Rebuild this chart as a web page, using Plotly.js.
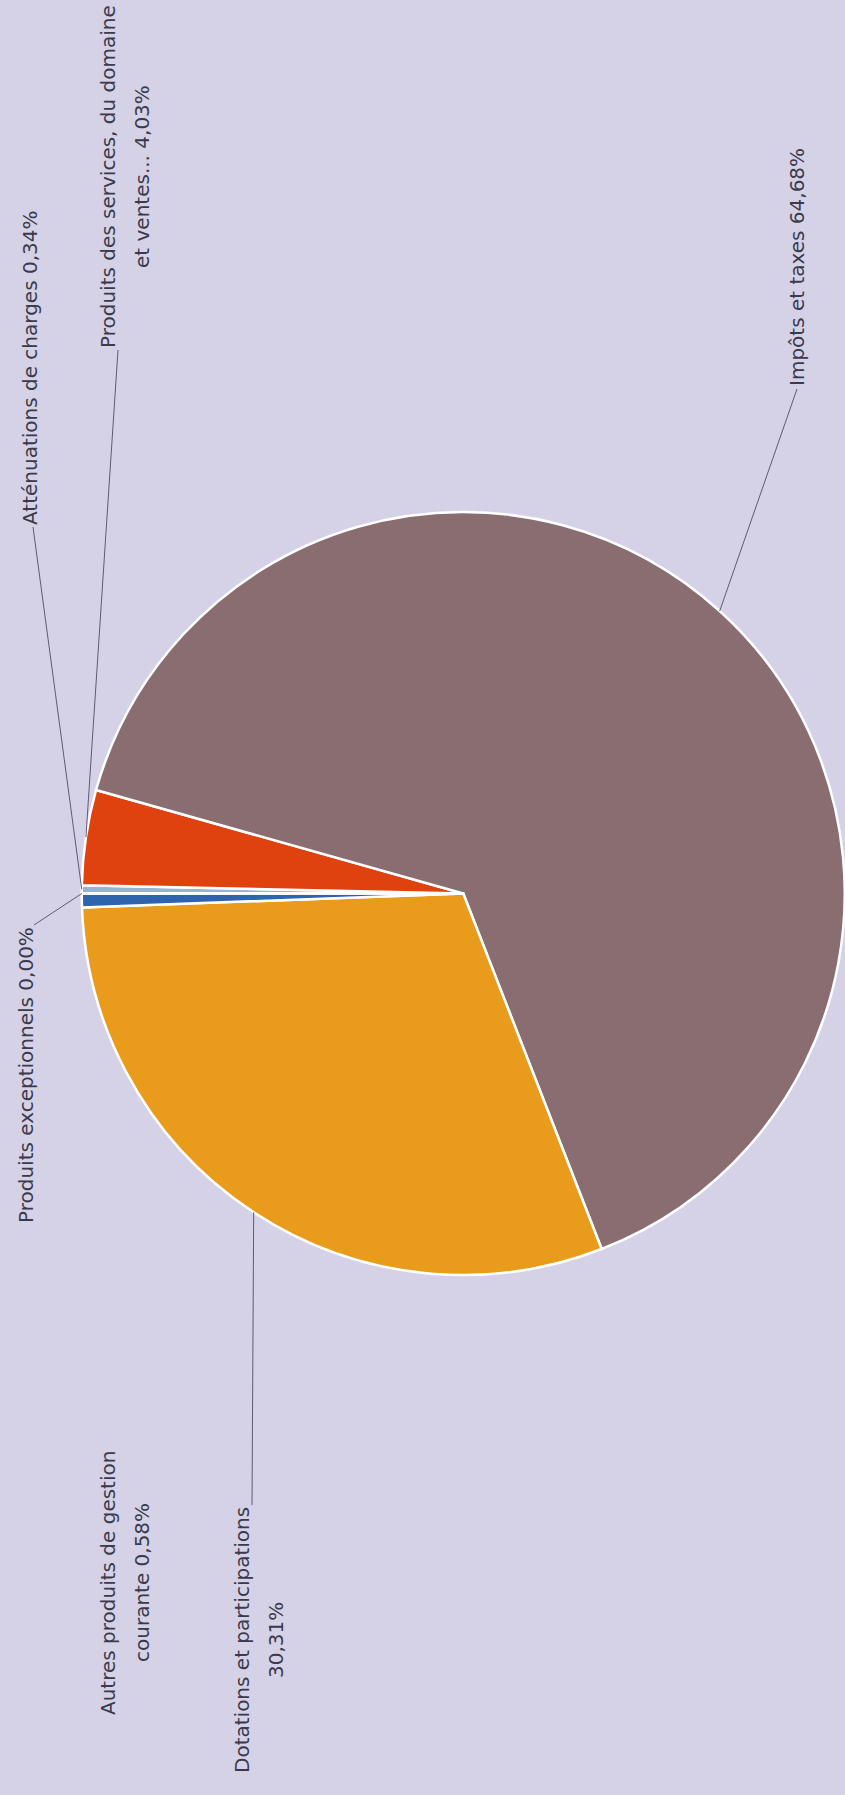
<!DOCTYPE html>
<html>
<head>
<meta charset="utf-8">
<script src="https://cdn.plot.ly/plotly-3.0.1.min.js"></script>
<style>
  html, body { margin: 0; padding: 0; width: 845px; height: 1795px; overflow: hidden; background: #D5D2E8; }
  #chart { position: absolute; left: 0; top: 0; width: 1795px; height: 845px;
           transform-origin: 0 0; transform: translate(0px, 1795px) rotate(-90deg); }
</style>
</head>
<body>
<div id="chart"></div>
<script>
// ---- data ----
const categories = [
  "Atténuations de charges",
  "Produits des services, du domaine et ventes...",
  "Impôts et taxes",
  "Dotations et participations",
  "Autres produits de gestion courante",
  "Produits exceptionnels"
];
const shares = [0.34, 4.03, 64.68, 30.31, 0.58, 0.00];
const labelLines = [
  ["Atténuations de charges 0,34%"],
  ["Produits des services, du domaine", "et ventes... 4,03%"],
  ["Impôts et taxes 64,68%"],
  ["Dotations et participations", "30,31%"],
  ["Autres produits de gestion", "courante 0,58%"],
  ["Produits exceptionnels 0,00%"]
];
const sliceColors = ["#9AB2D6", "#E0420F", "#896D71", "#E99B1C", "#2E64AE", "#9BBB59"];

// ---- layout (unrotated frame: 1795 x 845, rotated -90deg by CSS) ----
const W = 1795, H = 845;
const FONT_FAMILY = "DejaVu Sans";
const FONT_SIZE = 20;
const LINE_GAP = 34;
const dom = { x0: 520, x1: 1283, y0: 0, y1: 763.5 };      // pixels, y measured from bottom
const R = Math.min(dom.x1 - dom.x0, dom.y1 - dom.y0) / 2;
const CU = (dom.x0 + dom.x1) / 2;
const CV = H - (dom.y0 + dom.y1) / 2;                      // v measured from top

// label placement: edge u, side of block the edge belongs to, first line v, leader end
const labelPos = [
  { u: 1270, side: "left",   v: 30,  leader: { u: 1268, v: 33 } },
  { u: 1447, side: "left",   v: 108, leader: { u: 1445, v: 118 } },
  { u: 1409, side: "left",   v: 797, leader: { u: 1406, v: 797 } },
  { u: 288,  side: "right",  v: 242, leader: { u: 290,  v: 252 } },
  { u: 212,  side: "center", v: 108, leader: null },
  { u: 868,  side: "right",  v: 26,  leader: { u: 870,  v: 34 } }
];

const cnv = document.createElement("canvas").getContext("2d");
cnv.font = FONT_SIZE + "px '" + FONT_FAMILY + "'";
const textWidth = s => cnv.measureText(s).width;

const total = shares.reduce((a, b) => a + b, 0);
const px = u => u / W;
const py = v => 1 - v / H;

let cum = 0;
const shapes = [], annotations = [];
shares.forEach((s, i) => {
  const mid = (cum + s / 2) / total * 2 * Math.PI;
  cum += s;
  const ru = CU + R * Math.sin(mid);
  const rv = CV - R * Math.cos(mid);
  const p = labelPos[i];
  if (p.leader) {
    shapes.push({ type: "line", xref: "paper", yref: "paper",
      x0: px(ru), y0: py(rv), x1: px(p.leader.u), y1: py(p.leader.v),
      line: { color: "#5E5C6E", width: 1 } });
  }
  const lines = labelLines[i];
  const bw = Math.max(...lines.map(textWidth));
  const left = p.side === "left" ? p.u : (p.side === "right" ? p.u - bw : p.u - bw / 2);
  const cu = left + bw / 2;
  lines.forEach((ln, k) => {
    annotations.push({ xref: "paper", yref: "paper", x: px(cu), y: py(p.v + k * LINE_GAP),
      xanchor: "center", yanchor: "middle", align: "center", showarrow: false,
      text: ln, font: { family: FONT_FAMILY + ", sans-serif", size: FONT_SIZE, color: "#3B3A4C" } });
  });
});

const trace = {
  type: "pie",
  labels: categories,
  values: shares,
  sort: false,
  direction: "clockwise",
  rotation: 0,
  textinfo: "none",
  hoverinfo: "skip",
  marker: { colors: sliceColors, line: { color: "#FFFFFF", width: 2.5 } },
  domain: { x: [dom.x0 / W, dom.x1 / W], y: [dom.y0 / H, dom.y1 / H] }
};

const layout = {
  width: W, height: H,
  margin: { l: 0, r: 0, t: 0, b: 0 },
  paper_bgcolor: "#D5D2E8",
  plot_bgcolor: "#D5D2E8",
  showlegend: false,
  shapes: shapes,
  annotations: annotations
};

Plotly.newPlot("chart", [trace], layout, { staticPlot: true, displayModeBar: false });
</script>
</body>
</html>
